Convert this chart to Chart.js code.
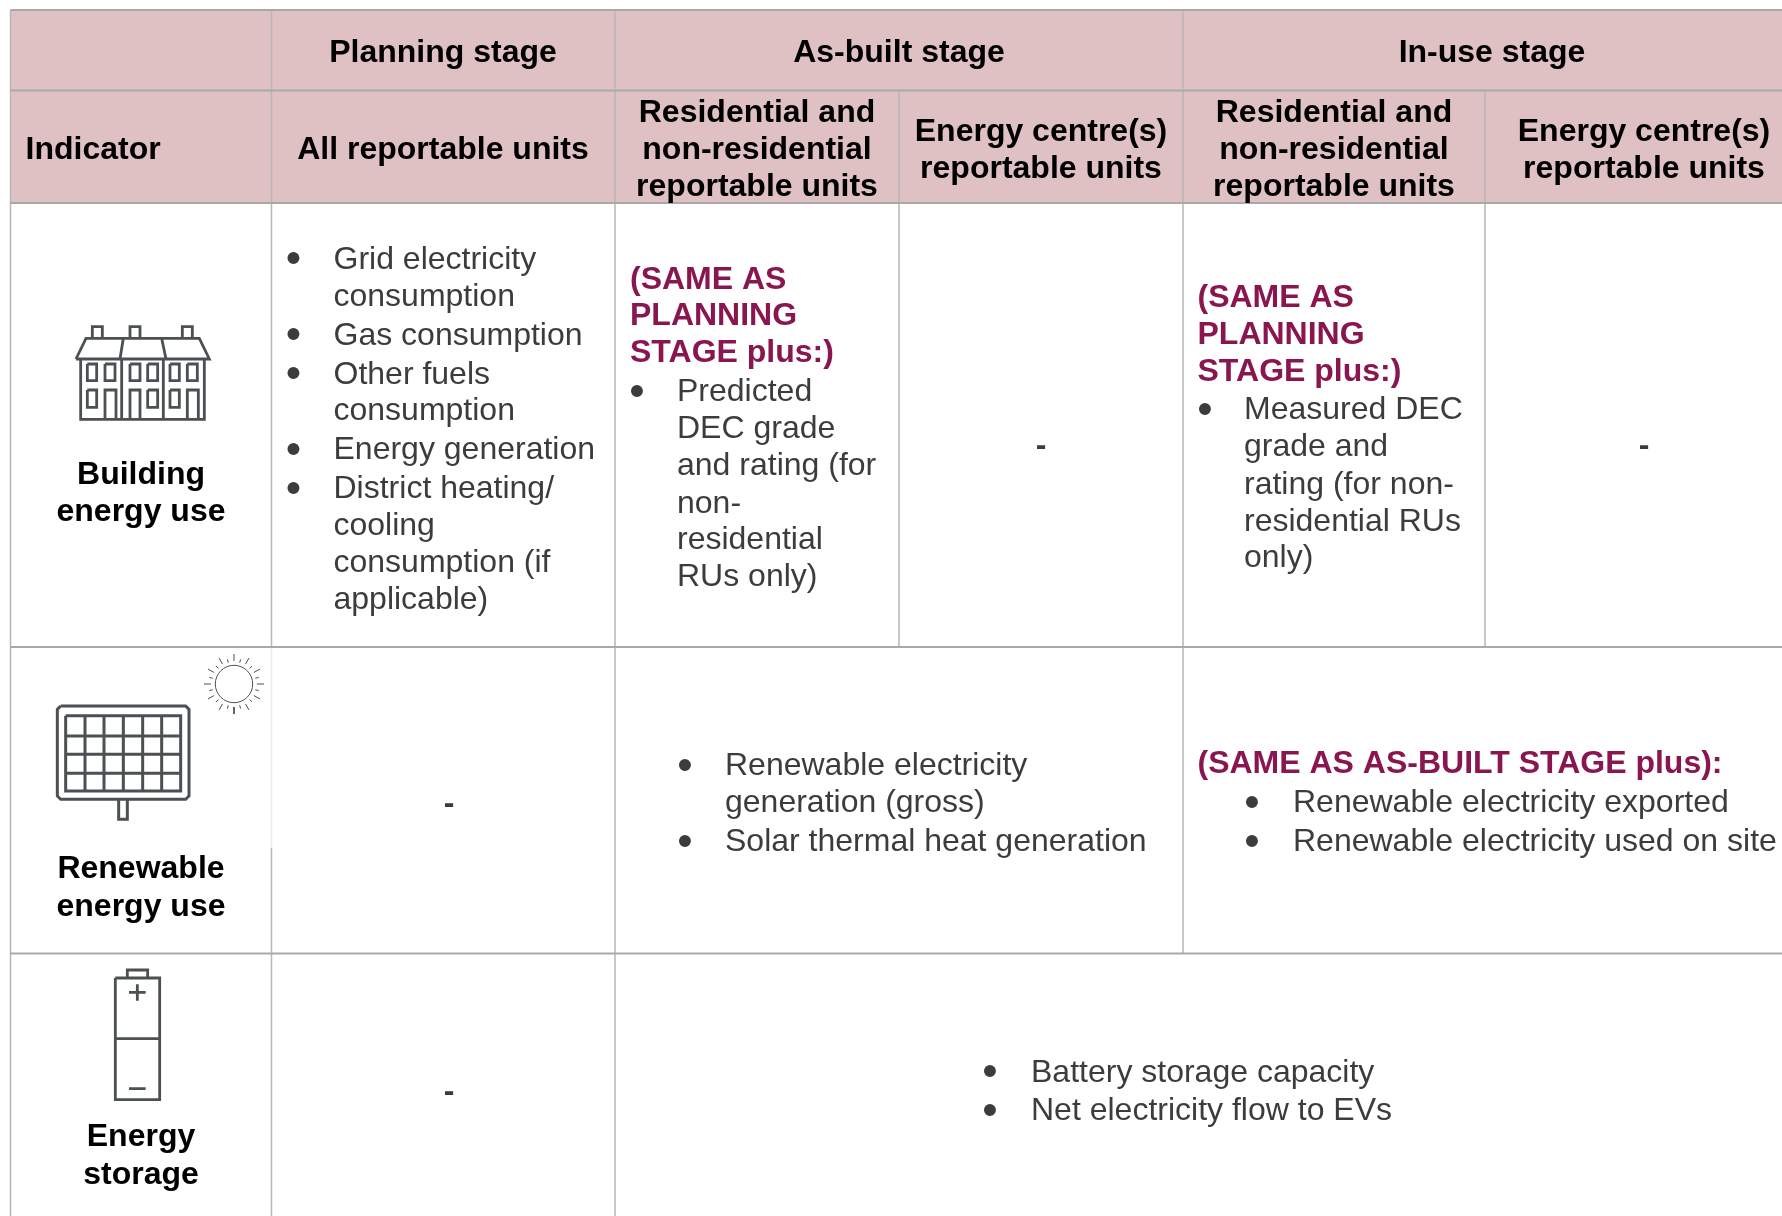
<!DOCTYPE html>
<html><head><meta charset="utf-8">
<style>html,body{margin:0;padding:0;background:#fff}canvas{display:block}</style>
<script src="https://cdn.jsdelivr.net/npm/chart.js@4"></script>
</head><body><canvas id="c" width="1782" height="1216"></canvas>
<script>
// ---- table text ----
const stageLabels = ['Planning stage','As-built stage','In-use stage'];
const indicatorHeader = ['Indicator'];
const allUnitsHeader = ['All reportable units'];
const residentialHeader = ['Residential and','non-residential','reportable units'];
const energyCentreHeader = ['Energy centre(s)','reportable units'];
const buildingLabel = ['Building','energy use'];
const renewableLabel = ['Renewable','energy use'];
const storageLabel = ['Energy','storage'];
const noValue = ['-'];
const buildingPlanning = ['Grid electricity','consumption','Gas consumption','Other fuels','consumption','Energy generation','District heating/','cooling','consumption (if','applicable)'];
const buildingPlanningBullets = [0,2,3,5,6];
const samePlanning = ['(SAME AS','PLANNING','STAGE plus:)'];
const buildingAsBuilt = ['Predicted','DEC grade','and rating (for','non-','residential','RUs only)'];
const buildingInUse = ['Measured DEC','grade and','rating (for non-','residential RUs','only)'];
const renewableAsBuilt = ['Renewable electricity','generation (gross)','Solar thermal heat generation'];
const renewableAsBuiltBullets = [0,2];
const sameAsBuilt = ['(SAME AS AS-BUILT STAGE plus):'];
const renewableInUse = ['Renewable electricity exported','Renewable electricity used on site'];
const storageItems = ['Battery storage capacity','Net electricity flow to EVs'];

// ---- table geometry in axis units ----
const W = 1782, H = 1216;
const colEdges = [10.5,271.5,615,899,1183,1485];
const rowEdges = [10,90.5,203,647,953.5];

// ---- styles ----
const FONT = '"Liberation Sans", Arial, sans-serif';
const BODY = '#3c3c3c', BOLD = '#000000', MAROON = '#8a1650';
const ICON = '#4b5053', RULE = '#a9a9a9', THIN = '#b7b7b7', PINK = '#dfc1c4';
const TEXT_SHIFT = 2.3, BULLET_SHIFT = 3.4;

const gap = {x:NaN,y:NaN};
const seg = (...p) => { const o=[]; for(let i=0;i<p.length;i+=2) o.push({x:p[i],y:p[i+1]}); o.push(gap); return o; };
const vline = (x,y0,y1) => seg(x,y0,x,y1);
const hline = (y,x0,x1) => seg(x0,y,x1,y);

const strongRules = [].concat(...rowEdges.map(y=>hline(y,colEdges[0],W)));
const thinRules = [].concat(
  vline(colEdges[0],rowEdges[0],H),
  vline(colEdges[1],rowEdges[0],rowEdges[3]), vline(colEdges[1],848,H),
  vline(colEdges[2],rowEdges[0],H),
  vline(colEdges[3],rowEdges[1],rowEdges[3]),
  vline(colEdges[4],rowEdges[0],rowEdges[4]),
  vline(colEdges[5],rowEdges[1],rowEdges[3]));
const faintRules = vline(colEdges[1],rowEdges[3],848);

// icon helper: drawn in crop units then placed into axis units
const placer = (ox,oy,k) => (...p) => { const q=[]; for(let i=0;i<p.length;i+=2) q.push(ox+p[i]/k, oy+p[i+1]/k); return seg(...q); };
const h = placer(60,310,3);
const box = (f,a,b,c,d) => f(a,b,c,b,c,d,a,d,a,b);
const houseIcon = [].concat(
  h(48,147,78,85,418,85,448,147,48,147),
  h(190,85,180,147), h(305,85,318,147),
  h(97,85,97,50,127,50,127,85), h(210,85,210,50,240,50,240,85), h(367,85,367,50,397,50,397,85),
  h(62,147,62,328,433,328,433,147), h(185,147,185,328), h(310,147,310,328),
  box(h,82,162,110,212), box(h,135,162,165,212), box(h,210,162,240,212),
  box(h,263,162,293,212), box(h,330,162,358,212), box(h,382,162,412,212),
  box(h,82,240,110,292), box(h,263,240,293,292), box(h,330,240,358,292),
  h(135,328,135,240,168,240,168,328), h(210,328,210,240,240,240,240,328), h(382,328,382,240,415,240,415,328));
const s = placer(0,640,3);
const solarIcon = [].concat(
  s(182,198,557,198,567,208,567,468,557,478,182,478,172,468,172,208,182,198),
  box(s,197,227,542,453),
  ...[255,312,370,428,485].map(x=>s(x,227,x,453)),
  ...[288,343,400].map(y=>s(197,y,542,y)),
  s(356,480,356,538,382,538,382,480));
const sunCentre = [{x:234,y:684}];
const sunRays = [];
for(let i=0;i<24;i++){ const a=i*Math.PI/12, r0=i%2?22:23, r1=i%2?25.5:30;
  sunRays.push({x:234+r0*Math.cos(a),y:684+r0*Math.sin(a)},{x:234+r1*Math.cos(a),y:684+r1*Math.sin(a)},gap); }
const b = placer(80,950,3);
const batteryIcon = [].concat(
  box(b,106,84,239,449), b(106,266,239,266),
  b(142,84,142,60,203,60,203,84),
  b(147,127,197,127), b(172,103,172,152), b(147,416,197,416));

const lineSet = (data,color,width) => ({type:'line',data,borderColor:color,borderWidth:width,pointRadius:0,fill:false,spanGaps:false,tension:0,borderCapStyle:'butt'});

// ---- text layout ----
const textBlocks = [
  {lines:[stageLabels[0]],x:443,ys:[51],style:'head'},
  {lines:[stageLabels[1]],x:899,ys:[51],style:'head'},
  {lines:[stageLabels[2]],x:1492,ys:[51],style:'head'},
  {lines:indicatorHeader,x:25.5,ys:[148],style:'headL'},
  {lines:allUnitsHeader,x:443,ys:[148],style:'head'},
  {lines:residentialHeader,x:757,ys:[111,148,185],style:'head'},
  {lines:energyCentreHeader,x:1041,ys:[130,166.5],style:'head'},
  {lines:residentialHeader,x:1334,ys:[111,148,185],style:'head'},
  {lines:energyCentreHeader,x:1644,ys:[130,166.5],style:'head'},
  {lines:buildingLabel,x:141,ys:[472.5,510],style:'head'},
  {lines:renewableLabel,x:141,ys:[867,904.5],style:'head'},
  {lines:storageLabel,x:141,ys:[1135,1173],style:'head'},
  {lines:buildingPlanning,x:333.5,ys:[257.5,294.5,333.5,372.5,408.5,448,487,524,560.5,597.5],style:'body',bulletX:293.5,bullets:buildingPlanningBullets},
  {lines:samePlanning,x:630,ys:[278,313.5,350.5],style:'same'},
  {lines:buildingAsBuilt,x:677,ys:[390,427,464,501.5,538,574.5],style:'body',bulletX:637,bullets:[0]},
  {lines:samePlanning,x:1197.5,ys:[296,332.5,369.5],style:'same'},
  {lines:buildingInUse,x:1244,ys:[408,445,483,520,556],style:'body',bulletX:1205,bullets:[0]},
  {lines:noValue,x:1041,ys:[444],style:'dash'},
  {lines:noValue,x:1644,ys:[444],style:'dash'},
  {lines:noValue,x:449,ys:[802],style:'dash'},
  {lines:noValue,x:449,ys:[1090],style:'dash'},
  {lines:renewableAsBuilt,x:725,ys:[764,801,840],style:'body',bulletX:685,bullets:renewableAsBuiltBullets},
  {lines:sameAsBuilt,x:1197.5,ys:[762],style:'same'},
  {lines:renewableInUse,x:1293,ys:[801,840],style:'body',bulletX:1252,bullets:[0,1]},
  {lines:storageItems,x:1031,ys:[1070.5,1109],style:'body',bulletX:990,bullets:[0,1]},
];
const styles = {
  head:{font:'bold 32px '+FONT,color:BOLD,align:'center'},
  headL:{font:'bold 32px '+FONT,color:BOLD,align:'left'},
  body:{font:'32px '+FONT,color:BODY,align:'left'},
  same:{font:'bold 32px '+FONT,color:MAROON,align:'left'},
  dash:{font:'bold 32px '+FONT,color:BODY,align:'center'},
};
const tableText = {
  id:'tableText',
  afterDatasetsDraw(chart){
    const {ctx,scales:{x:sx,y:sy}} = chart;
    ctx.save(); ctx.textBaseline='middle';
    for(const t of textBlocks){
      const st=styles[t.style];
      ctx.font=st.font; ctx.fillStyle=st.color; ctx.textAlign=st.align;
      t.lines.forEach((ln,i)=>ctx.fillText(ln,sx.getPixelForValue(t.x),sy.getPixelForValue(t.ys[i]+TEXT_SHIFT)));
      if(t.bullets){ ctx.textAlign='center'; ctx.font='44px '+FONT;
        t.bullets.forEach(i=>ctx.fillText('\u2022',sx.getPixelForValue(t.bulletX),sy.getPixelForValue(t.ys[i]+BULLET_SHIFT))); }
    }
    ctx.restore();
  }
};

new Chart(document.getElementById('c'),{
  type:'line',
  data:{datasets:[
    lineSet(houseIcon,ICON,2.8),
    lineSet(solarIcon,ICON,3),
    lineSet(batteryIcon,ICON,2.8),
    lineSet(sunRays,ICON,1),
    {type:'scatter',data:sunCentre,pointRadius:18.7,pointBorderWidth:1,pointBorderColor:ICON,pointBackgroundColor:'transparent',pointHoverRadius:18.7},
    lineSet(strongRules,RULE,2),
    lineSet(thinRules,THIN,1.5),
    lineSet(faintRules,'#ececec',1.5),
    {type:'line',data:[{x:colEdges[0],y:rowEdges[0]},{x:W,y:rowEdges[0]}],borderWidth:0,pointRadius:0,backgroundColor:PINK,fill:{value:rowEdges[2]}},
  ]},
  options:{
    responsive:false,animation:false,events:[],
    layout:{padding:0,autoPadding:false},
    plugins:{legend:{display:false},tooltip:{enabled:false},title:{display:false}},
    scales:{
      x:{type:'linear',min:0,max:W,display:false},
      y:{type:'linear',min:0,max:H,reverse:true,display:false}
    }
  },
  plugins:[tableText]
});
</script></body></html>
